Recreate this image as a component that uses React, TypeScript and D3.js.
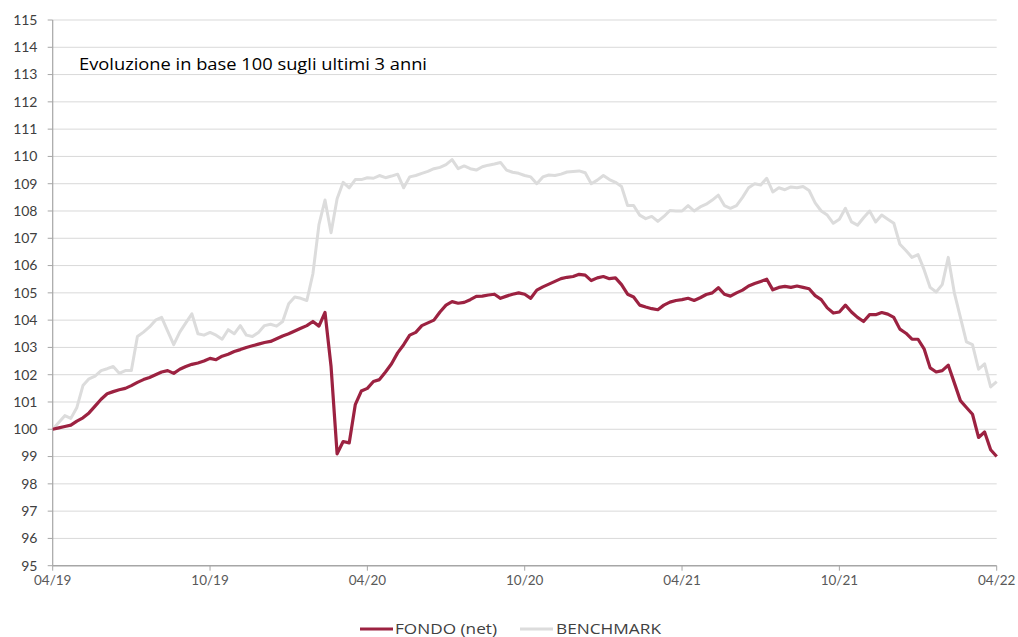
import React from "react";
import * as d3 from "d3";

const xTickLabels = ["04/19", "10/19", "04/20", "10/20", "04/21", "10/21", "04/22"];
const yTicks = [95, 96, 97, 98, 99, 100, 101, 102, 103, 104, 105, 106, 107, 108, 109, 110, 111, 112, 113, 114, 115];
const seriesNames = ["FONDO (net)", "BENCHMARK"];
const titleText = "Evoluzione in base 100 sugli ultimi 3 anni";

// weekly values, April 2019 -> April 2022 (157 weeks)
const fondo = [
  100.0, 100.05, 100.1, 100.15, 100.3, 100.42, 100.6, 100.85, 101.1, 101.3,
  101.38, 101.45, 101.5, 101.6, 101.72, 101.82, 101.9, 102.0, 102.1, 102.15,
  102.05, 102.2, 102.3, 102.38, 102.43, 102.5, 102.6, 102.55, 102.68, 102.75,
  102.85, 102.92, 103.0, 103.06, 103.12, 103.18, 103.22, 103.32, 103.42, 103.5,
  103.6, 103.7, 103.8, 103.95, 103.78, 104.28, 102.3, 99.1, 99.55, 99.5,
  100.9, 101.4, 101.5, 101.75, 101.82, 102.1, 102.4, 102.8, 103.1, 103.45,
  103.55, 103.8, 103.9, 104.0, 104.3, 104.55, 104.68, 104.62, 104.65, 104.75,
  104.87, 104.88, 104.92, 104.95, 104.8, 104.88, 104.95, 105.0, 104.95, 104.8,
  105.1, 105.22, 105.32, 105.42, 105.52, 105.57, 105.6, 105.68, 105.65, 105.45,
  105.55, 105.6, 105.52, 105.55, 105.3, 104.95, 104.85, 104.55, 104.48, 104.42,
  104.38, 104.55, 104.66, 104.72, 104.75, 104.8, 104.72, 104.82, 104.94, 105.0,
  105.19, 104.95, 104.88, 105.0, 105.1, 105.25, 105.34, 105.42, 105.5, 105.11,
  105.2, 105.24, 105.2, 105.25, 105.2, 105.15, 104.9, 104.75, 104.45, 104.26,
  104.3, 104.55, 104.3, 104.1, 103.95, 104.2, 104.2, 104.28, 104.22, 104.1,
  103.67, 103.52, 103.3, 103.3, 102.95, 102.25, 102.1, 102.15, 102.35, 101.7,
  101.05, 100.8, 100.55, 99.7, 99.9, 99.25, 99.0,
];

const benchmark = [
  100.0, 100.25, 100.5, 100.4, 100.8, 101.6, 101.85, 101.95, 102.15, 102.22,
  102.3, 102.05, 102.15, 102.15, 103.4, 103.56, 103.75, 104.0, 104.1, 103.6,
  103.1, 103.56, 103.9, 104.23, 103.5, 103.45, 103.55, 103.45, 103.3, 103.65,
  103.5, 103.8, 103.45, 103.4, 103.55, 103.8, 103.85, 103.78, 103.95, 104.6,
  104.85, 104.8, 104.72, 105.7, 107.5, 108.4, 107.2, 108.45, 109.05, 108.85,
  109.15, 109.15, 109.22, 109.2, 109.3, 109.22, 109.28, 109.35, 108.85, 109.25,
  109.3, 109.38, 109.45, 109.55, 109.6, 109.7, 109.88, 109.55, 109.65, 109.55,
  109.5, 109.62, 109.68, 109.72, 109.78, 109.5, 109.42, 109.38, 109.3, 109.25,
  109.0, 109.25, 109.32, 109.3, 109.35, 109.43, 109.45, 109.47, 109.4, 109.0,
  109.13, 109.3, 109.15, 109.05, 108.9, 108.2, 108.2, 107.85, 107.72, 107.8,
  107.62, 107.8, 108.02, 108.0, 108.0, 108.2, 108.0, 108.15, 108.25, 108.4,
  108.58, 108.2, 108.1, 108.2, 108.5, 108.85, 109.0, 108.95, 109.2, 108.7,
  108.85, 108.78, 108.88, 108.85, 108.9, 108.75, 108.3, 108.0, 107.85, 107.55,
  107.7, 108.1, 107.6, 107.48, 107.75, 108.0, 107.6, 107.85, 107.7, 107.55,
  106.78, 106.55, 106.3, 106.4, 105.85, 105.2, 105.03, 105.3, 106.3, 105.0,
  104.1, 103.2, 103.1, 102.2, 102.4, 101.55, 101.75,
];

const W = 1018;
const H = 637;
const left = 52.7;
const right = 996.7;
const top = 20;
const bottom = 565.7;
const RED = "#9c2241";
const GREY = "#dcdcdc";
const FONT = "Lato, 'Open Sans', sans-serif";
const WIDE = "'Open Sans', Lato, sans-serif";

export default function App() {
  const n = fondo.length;
  const x = d3.scaleLinear().domain([0, n - 1]).range([left, right]);
  const y = d3.scaleLinear().domain([95, 115]).range([bottom, top]);
  const xLab = d3.scaleLinear().domain([0, xTickLabels.length - 1]).range([left, right]);
  const line = d3
    .line<number>()
    .x((_, i) => x(i))
    .y((d) => y(d))
    .curve(d3.curveLinear);

  return (
    <svg
      width={W}
      height={H}
      style={{ position: "absolute", left: 0, top: 0, background: "#fff" }}
      fontFamily={FONT}
    >
      {yTicks.map((t) => (
        <g key={t}>
          {t > 95 && (
            <line x1={left} x2={right} y1={y(t)} y2={y(t)} stroke="#d9d9d9" strokeWidth={1} />
          )}
          <line x1={left - 5} x2={left} y1={y(t)} y2={y(t)} stroke="#a6a6a6" strokeWidth={1} />
          <text x={37.5} y={y(t)} dy="0.35em" textAnchor="end" fontSize={14} fill="#404040">
            {t}
          </text>
        </g>
      ))}
      <line x1={left} x2={left} y1={top} y2={bottom} stroke="#a6a6a6" strokeWidth={1.2} />
      <line x1={left} x2={right} y1={bottom} y2={bottom} stroke="#a6a6a6" strokeWidth={1.5} />
      {xTickLabels.map((l, i) => (
        <g key={l}>
          <line x1={xLab(i)} x2={xLab(i)} y1={bottom} y2={bottom + 5} stroke="#a6a6a6" strokeWidth={1} />
          <text x={xLab(i)} y={585} textAnchor="middle" fontSize={13.5} fill="#595959">
            {l}
          </text>
        </g>
      ))}

      <path d={line(benchmark) || ""} fill="none" stroke={GREY} strokeWidth={3} strokeLinejoin="round" />
      <path d={line(fondo) || ""} fill="none" stroke={RED} strokeWidth={3.2} strokeLinejoin="round" />

      <text x={79} y={70} fontSize={16.5} fill="#000" fontFamily={WIDE} textLength={348} lengthAdjust="spacingAndGlyphs">
        {titleText}
      </text>

      <g fontFamily={WIDE}>
        <line x1={360} x2={393} y1={629} y2={629} stroke={RED} strokeWidth={3} />
        <text x={395} y={629} dy="0.35em" fontSize={14.5} fill="#404040" textLength={102} lengthAdjust="spacingAndGlyphs">
          {seriesNames[0]}
        </text>
        <line x1={520} x2={553} y1={629} y2={629} stroke={GREY} strokeWidth={3} />
        <text x={556} y={629} dy="0.35em" fontSize={14.5} fill="#404040" textLength={105} lengthAdjust="spacingAndGlyphs">
          {seriesNames[1]}
        </text>
      </g>
    </svg>
  );
}
